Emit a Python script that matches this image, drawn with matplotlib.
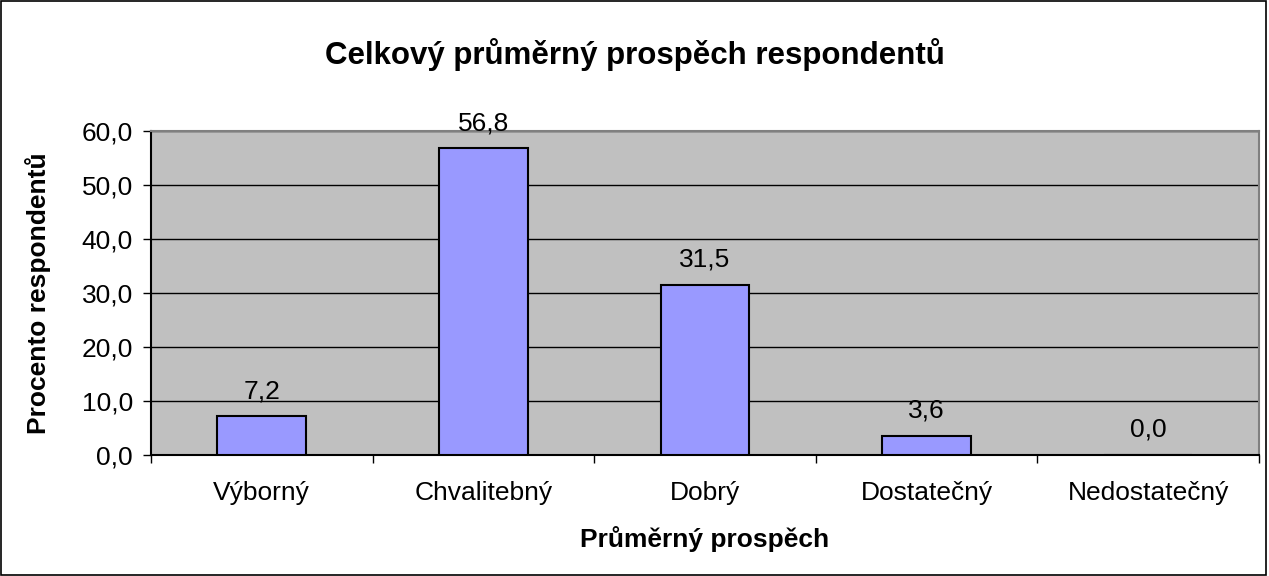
import numpy as np
import matplotlib.pyplot as plt
from matplotlib.patches import Rectangle

plt.rcParams['font.family'] = ['Liberation Sans', 'DejaVu Sans']

categories = ['Výborný', 'Chvalitebný', 'Dobrý', 'Dostatečný', 'Nedostatečný']
values = [7.2, 56.8, 31.5, 3.6, 0.0]
yticks = [0, 10, 20, 30, 40, 50, 60]

fig = plt.figure(figsize=(12.69, 5.76), dpi=100)
ax = fig.add_axes([0.119, 0.21, 0.873, 0.5626])
ax.set_facecolor('#C0C0C0')

x = np.arange(len(categories))
ax.bar(x, values, width=0.4, color='#9999FF', edgecolor='black', linewidth=1.5, zorder=3)
for xi, v in zip(x, values):
    ax.annotate(f'{v:.1f}'.replace('.', ','), (xi, v), xytext=(0, 13), textcoords='offset points',
                ha='center', va='baseline', fontsize=19, annotation_clip=False)

ax.set_xlim(-0.5, len(categories) - 0.5)
ax.set_ylim(0, 60)
ax.set_yticks(yticks)
ax.set_yticklabels([f'{t:.1f}'.replace('.', ',') for t in yticks], fontsize=19)
ax.yaxis.grid(True, color='black', linewidth=1, zorder=1)
ax.set_axisbelow(True)

ax.set_xticks(x)
ax.set_xticklabels(categories, fontsize=19)
ax.tick_params(axis='x', length=0, pad=19)
ax.set_xticks(np.arange(-0.5, len(categories)), minor=True)
ax.tick_params(axis='x', which='minor', length=6, width=1, direction='out')
ax.tick_params(axis='y', length=6, width=1, direction='out', pad=7)

ax.spines['left'].set_color('black')
ax.spines['left'].set_linewidth(1.5)
ax.spines['bottom'].set_color('black')
ax.spines['bottom'].set_linewidth(1.5)
ax.spines['top'].set_color('#808080')
ax.spines['top'].set_linewidth(1.5)
ax.spines['right'].set_color('#808080')
ax.spines['right'].set_linewidth(1.5)

ax.set_xlabel('Průměrný prospěch', fontsize=19, fontweight='bold', labelpad=15)
fig.text(38 / 1269, 0.5 * (1 - 131 / 576 + 1 - 455 / 576), 'Procento respondentů', rotation=90,
         ha='center', va='center', fontsize=19, fontweight='bold')
fig.text(0.5, 1 - 55 / 576, 'Celkový průměrný prospěch respondentů', ha='center', va='center',
         fontsize=22.5, fontweight='bold')

fig.patches.append(Rectangle((0.001, 0.002), 0.997, 0.996, transform=fig.transFigure,
                             fill=False, edgecolor='black', linewidth=1.2))

fig.savefig('out.png', dpi=100)
